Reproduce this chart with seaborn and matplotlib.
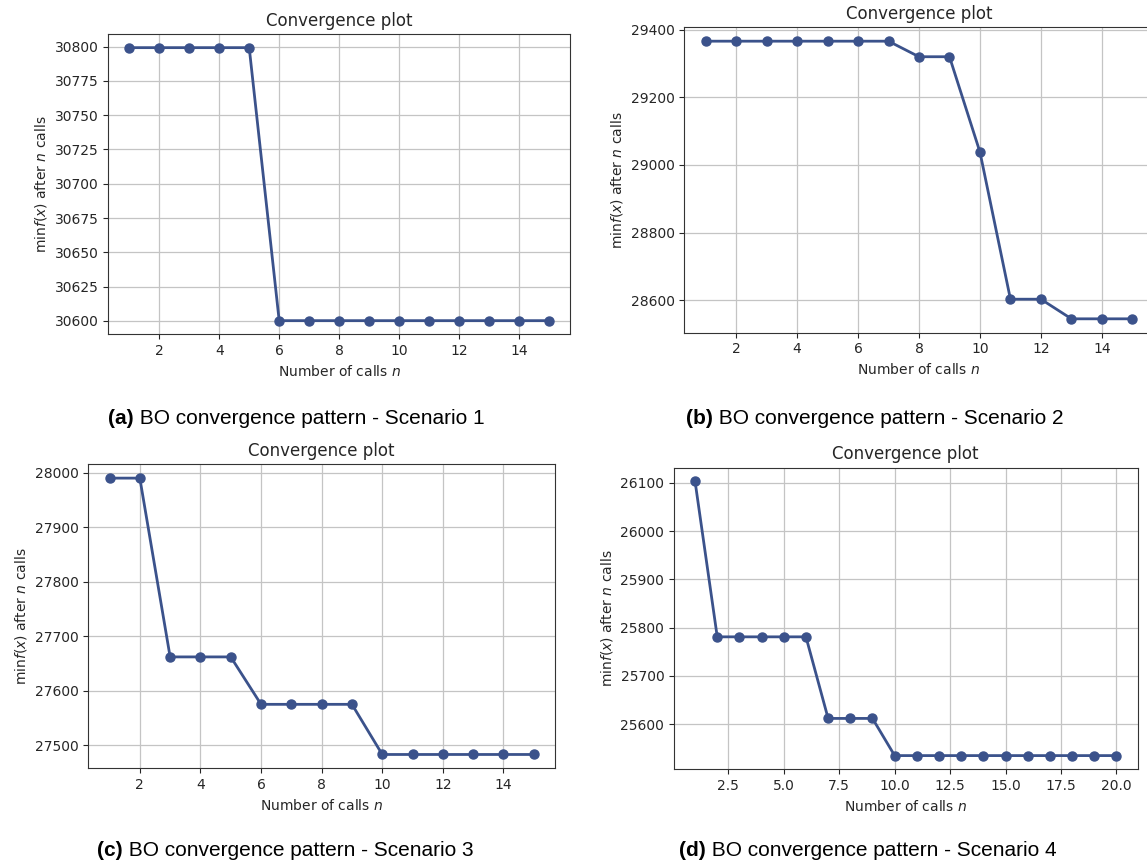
import matplotlib
matplotlib.use("Agg")
import matplotlib.pyplot as plt
import matplotlib.cm as cm
import numpy as np
import pandas as pd
import seaborn as sns

# Best objective value found after n calls, one series per scenario
calls_15 = list(range(1, 16))
calls_20 = list(range(1, 21))

scenario1 = [30799.3] * 5 + [30600.1] * 10
scenario2 = [29366] * 7 + [29320, 29320, 29038, 28603, 28603, 28545, 28545, 28545]
scenario3 = [27990, 27990, 27662, 27662, 27662, 27575, 27575, 27575, 27575] + [27483] * 6
scenario4 = [26103] + [25781] * 5 + [25612] * 3 + [25535] * 11

yticks1 = [30600, 30625, 30650, 30675, 30700, 30725, 30750, 30775, 30800]
yticks2 = [28600, 28800, 29000, 29200, 29400]
yticks3 = [27500, 27600, 27700, 27800, 27900, 28000]
yticks4 = [25600, 25700, 25800, 25900, 26000, 26100]
xticks15 = [2, 4, 6, 8, 10, 12, 14]
xticks20 = [2.5, 5.0, 7.5, 10.0, 12.5, 15.0, 17.5, 20.0]

captions = [
    ("(a)", " BO convergence pattern - Scenario 1"),
    ("(b)", " BO convergence pattern - Scenario 2"),
    ("(c)", " BO convergence pattern - Scenario 3"),
    ("(d)", " BO convergence pattern - Scenario 4"),
]

W, H = 1147, 865
fig = plt.figure(figsize=(W / 100, H / 100), dpi=100)
fig.patch.set_facecolor("white")

line_color = cm.viridis(0.25)
text_color = "#262626"

# panel boxes in pixels: left, top, right, bottom
boxes = [
    (108.3, 34.0, 570.0, 334.3),
    (684.3, 27.3, 1153.7, 332.7),
    (88.3, 464.3, 555.0, 768.3),
    (674.0, 467.7, 1137.5, 769.3),
]
panels = [
    (calls_15, scenario1, xticks15, yticks1),
    (calls_15, scenario2, xticks15, yticks2),
    (calls_15, scenario3, xticks15, yticks3),
    (calls_20, scenario4, xticks20, yticks4),
]
# caption start x and baseline y, in pixels
caption_pos = [(108, 424), (686, 424), (97, 856), (679, 856.5)]

for (l, t, r, b), (xs, ys, xt, yt) in zip(boxes, panels):
    ax = fig.add_axes([l / W, (H - b) / H, (r - l) / W, (b - t) / H])
    df = pd.DataFrame({"n": xs, "best": ys})
    sns.lineplot(data=df, x="n", y="best", ax=ax, color=line_color,
                 marker=".", markersize=13, linewidth=2,
                 markeredgecolor=line_color, markeredgewidth=1)
    ax.set_xticks(xt)
    ax.set_yticks(yt)
    ax.grid(True, color="#c4c4c4", linewidth=0.9)
    ax.set_axisbelow(True)
    ax.set_title("Convergence plot", fontsize=12, color=text_color)
    ax.set_xlabel("Number of calls $n$", fontsize=10, color=text_color)
    ax.set_ylabel(r"$\min f(x)$ after $n$ calls", fontsize=10, color=text_color)
    ax.tick_params(labelsize=10, labelcolor=text_color, color=text_color)
    for s in ax.spines.values():
        s.set_color("#333333")

renderer = fig.canvas.get_renderer()
for (bold, rest), (cx, cy) in zip(captions, caption_pos):
    t1 = fig.text(cx / W, (H - cy) / H, bold, fontsize=15, fontweight="bold",
                  family="Liberation Sans", va="baseline", ha="left", color="black")
    bb = t1.get_window_extent(renderer=renderer)
    fig.text(bb.x1 / W, (H - cy) / H, rest, fontsize=15,
             family="Liberation Sans", va="baseline", ha="left", color="black")

fig.savefig("out.png", dpi=100)
